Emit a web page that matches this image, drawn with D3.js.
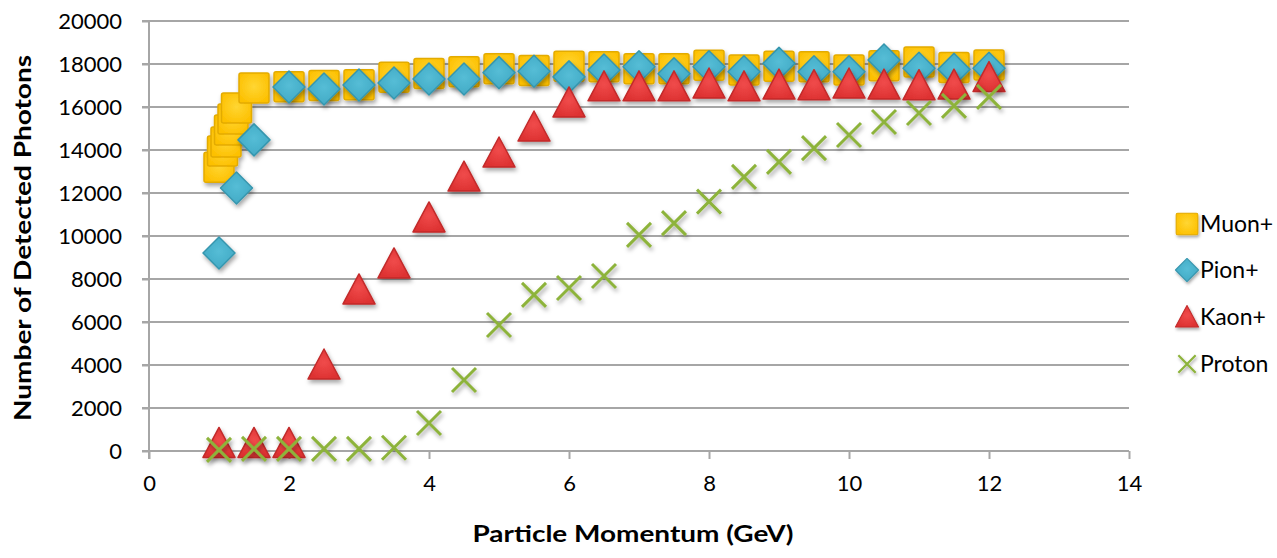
<!DOCTYPE html>
<html>
<head>
  <meta charset="utf-8">
  <title>Detected Photons vs Momentum</title>
  <script src="https://d3js.org/d3.v7.min.js"></script>
  <style>
    body { margin: 0; background: #fff; }
    text { font-family: Lato, "DejaVu Sans", sans-serif; fill: #000; }
  </style>
</head>
<body>
  <svg id="chart"></svg>
  <script>
    // data
    const muonX = [1, 1.05, 1.1, 1.15, 1.2, 1.25, 1.5, 2, 2.5, 3, 3.5, 4, 4.5, 5, 5.5, 6, 6.5, 7, 7.5, 8, 8.5, 9, 9.5, 10, 10.5, 11, 11.5, 12];
    const muonY = [13200, 13950, 14370, 14930, 15440, 15950, 16880, 16940, 17000, 17040, 17380, 17560, 17640, 17780, 17700, 17900, 17870, 17780, 17780, 17940, 17720, 17900, 17870, 17720, 17920, 18090, 17840, 17950];

    const pionX = [1, 1.25, 1.5, 2, 2.5, 3, 3.5, 4, 4.5, 5, 5.5, 6, 6.5, 7, 7.5, 8, 8.5, 9, 9.5, 10, 10.5, 11, 11.5, 12];
    const pionY = [9210, 12230, 14470, 16930, 16840, 17020, 17120, 17300, 17300, 17600, 17660, 17400, 17720, 17870, 17550, 17870, 17640, 18030, 17640, 17640, 18190, 17800, 17750, 17800];

    const kaonX = [1, 1.5, 2, 2.5, 3, 3.5, 4, 4.5, 5, 5.5, 6, 6.5, 7, 7.5, 8, 8.5, 9, 9.5, 10, 10.5, 11, 11.5, 12];
    const kaonY = [350, 350, 350, 4000, 7490, 8700, 10840, 12740, 13860, 15070, 16190, 16940, 16940, 16940, 17070, 16940, 17020, 16990, 17070, 17020, 16990, 17020, 17370];

    const protonX = [1, 1.5, 2, 2.5, 3, 3.5, 4, 4.5, 5, 5.5, 6, 6.5, 7, 7.5, 8, 8.5, 9, 9.5, 10, 10.5, 11, 11.5, 12];
    const protonY = [50, 100, 100, 100, 100, 150, 1300, 3300, 5860, 7260, 7580, 8140, 10050, 10600, 11600, 12750, 13450, 14090, 14700, 15300, 15720, 16050, 16470];

    const seriesNames = ["Muon+", "Pion+", "Kaon+", "Proton"];
    const xTicks = [0, 2, 4, 6, 8, 10, 12, 14];
    const yTicks = [0, 2000, 4000, 6000, 8000, 10000, 12000, 14000, 16000, 18000, 20000];

    const width = 1277, height = 558;
    const x = d3.scaleLinear().domain([0, 14]).range([149, 1129]);
    const y = d3.scaleLinear().domain([0, 20000]).range([451, 21]);
    const gridColor = "#a6a6a6";

    const svg = d3.select("#chart").attr("width", width).attr("height", height);

    // filters and gradients
    const defs = svg.append("defs");
    const shadow = defs.append("filter").attr("id", "shadow")
      .attr("x", "-50%").attr("y", "-50%").attr("width", "200%").attr("height", "200%");
    shadow.append("feDropShadow").attr("dx", 1.5).attr("dy", 3).attr("stdDeviation", 2.2)
      .attr("flood-color", "#000").attr("flood-opacity", 0.35);

    function radial(id, inner, outer) {
      const g = defs.append("radialGradient").attr("id", id).attr("cx", "50%").attr("cy", "45%").attr("r", "60%");
      g.append("stop").attr("offset", "0%").attr("stop-color", inner);
      g.append("stop").attr("offset", "100%").attr("stop-color", outer);
    }
    radial("gMuon", "#ffd633", "#fdc000");
    radial("gPion", "#55bdd6", "#42a9c4");
    radial("gKaon", "#f04b4b", "#dc3030");

    // y axis + gridlines
    const yAxis = svg.append("g").attr("transform", `translate(${x(0)},0)`)
      .call(d3.axisLeft(y).tickValues(yTicks).tickFormat(d3.format("d")).tickSize(7).tickPadding(20));
    yAxis.select(".domain").remove();
    yAxis.selectAll(".tick line").attr("stroke", gridColor).attr("stroke-width", 2);
    yAxis.selectAll(".tick text").style("font-size", "22px").attr("fill", "#000");

    svg.append("g").selectAll("line").data(yTicks).join("line")
      .attr("x1", x(0) - 7).attr("x2", x(14))
      .attr("y1", d => y(d)).attr("y2", d => y(d))
      .attr("stroke", gridColor).attr("stroke-width", 2);

    svg.append("line").attr("x1", x(0)).attr("x2", x(0)).attr("y1", y(20000) - 1).attr("y2", y(0) + 8)
      .attr("stroke", gridColor).attr("stroke-width", 2);

    // x axis
    const xAxis = svg.append("g").attr("transform", `translate(0,${y(0)})`)
      .call(d3.axisBottom(x).tickValues(xTicks).tickSize(8).tickPadding(16));
    xAxis.select(".domain").remove();
    xAxis.selectAll(".tick line").attr("stroke", gridColor).attr("stroke-width", 2);
    xAxis.selectAll(".tick text").style("font-size", "22px").attr("fill", "#000");

    // axis titles
    svg.append("text")
      .attr("transform", `translate(31,${(y(0) + y(20000)) / 2 + 2}) rotate(-90)`)
      .attr("text-anchor", "middle")
      .attr("textLength", 366).attr("lengthAdjust", "spacingAndGlyphs")
      .style("font-size", "22px").style("font-weight", "bold")
      .text("Number of Detected Photons");

    svg.append("text")
      .attr("x", 633).attr("y", 542)
      .attr("text-anchor", "middle")
      .attr("textLength", 321).attr("lengthAdjust", "spacingAndGlyphs")
      .style("font-size", "23px").style("font-weight", "bold")
      .text("Particle Momentum (GeV)");

    // marker shapes
    const shapes = {
      "Muon+": g => g.append("rect").attr("x", -15).attr("y", -15).attr("width", 30).attr("height", 30).attr("rx", 2)
        .attr("fill", "url(#gMuon)").attr("stroke", "#e3ab00").attr("stroke-width", 1.5),
      "Pion+": g => g.append("path").attr("d", "M0,-16L16,0L0,16L-16,0Z")
        .attr("fill", "url(#gPion)").attr("stroke", "#3696ae").attr("stroke-width", 1.5).attr("stroke-linejoin", "round"),
      "Kaon+": g => g.append("path").attr("d", "M0,-16L16,14L-16,14Z")
        .attr("fill", "url(#gKaon)").attr("stroke", "#c22a2a").attr("stroke-width", 1.5).attr("stroke-linejoin", "round"),
      "Proton": g => g.append("path").attr("d", "M-12,-12L12,12M-12,12L12,-12")
        .attr("fill", "none").attr("stroke", "#8db33a").attr("stroke-width", 3)
    };

    const series = [
      { name: "Muon+", xs: muonX, ys: muonY },
      { name: "Pion+", xs: pionX, ys: pionY },
      { name: "Kaon+", xs: kaonX, ys: kaonY },
      { name: "Proton", xs: protonX, ys: protonY }
    ];

    series.forEach(s => {
      const pts = s.xs.map((v, i) => ({ x: v, y: s.ys[i] }));
      const layer = svg.append("g").attr("filter", "url(#shadow)");
      layer.selectAll("g").data(pts).join("g")
        .attr("transform", d => `translate(${x(d.x)},${y(d.y)})`)
        .each(function () { shapes[s.name](d3.select(this)); });
    });

    // legend
    const legend = svg.append("g");
    const legendY = [224, 270, 317, 364];
    seriesNames.forEach((name, i) => {
      const item = legend.append("g").attr("transform", `translate(1187,${legendY[i]})`);
      const m = item.append("g").attr("transform", "scale(0.72)").attr("filter", "url(#shadow)");
      shapes[name](m);
      item.append("text").attr("x", 13).attr("y", 8)
        .style("font-size", "23px").text(name);
    });
  </script>
</body>
</html>
